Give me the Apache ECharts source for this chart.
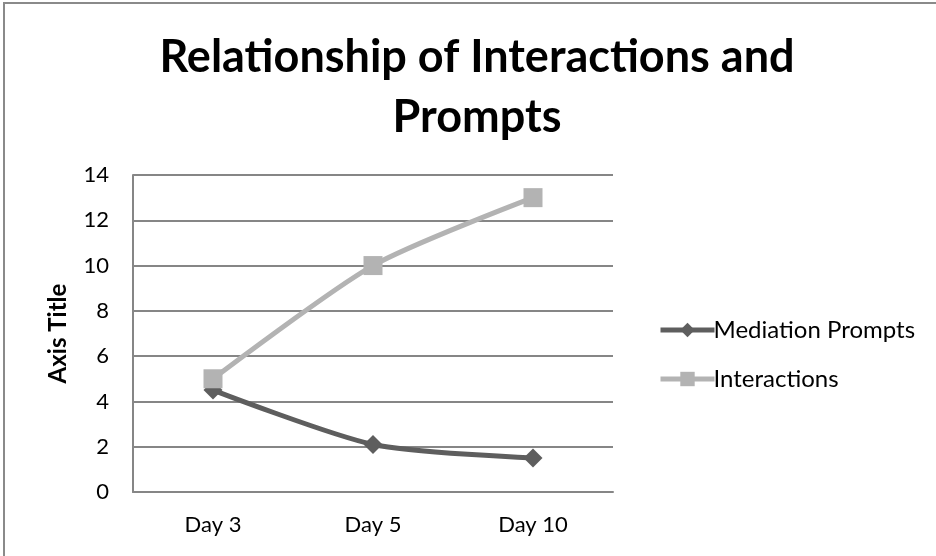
<!DOCTYPE html>
<html>
<head>
<meta charset="utf-8">
<style>
  html, body { margin: 0; padding: 0; background: #fff; }
  #chart { width: 936px; height: 556px; }
</style>
<script src="https://cdn.jsdelivr.net/npm/echarts@6/dist/echarts.min.js"></script>
</head>
<body>
<div id="chart"></div>
<script>
// 数据
var days = ['Day 3', 'Day 5', 'Day 10'];
var mediationPrompts = [4.5, 2.1, 1.5];
var interactions = [5, 10, 13];
var yTicks = { min: 0, max: 14, interval: 2 };

var font = 'Lato, "Open Sans", sans-serif';
var chart = echarts.init(document.getElementById('chart'), null, { renderer: 'canvas' });

var option = {
  animation: false,
  backgroundColor: '#fff',
  textStyle: { fontFamily: font },
  graphic: [{
    // 外边框
    type: 'rect',
    shape: { x: 4, y: 3, width: 960, height: 600 },
    style: { fill: 'none', stroke: '#8a8a8a', lineWidth: 2 },
    silent: true
  }],
  title: {
    text: 'Relationship of Interactions and\nPrompts',
    left: 472,
    top: 22,
    textAlign: 'center',
    textStyle: {
      fontFamily: font,
      fontWeight: 'bold',
      fontSize: 45,
      lineHeight: 60,
      color: '#000'
    }
  },
  legend: {
    orient: 'vertical',
    left: 653,
    top: 313,
    itemWidth: 54,
    itemHeight: 18,
    itemGap: 25,
    lineStyle: { width: 5 },
    textStyle: { fontFamily: font, fontSize: 24, lineHeight: 24, color: '#000', padding: [0, 0, 0, -6] },
    data: ['Mediation Prompts', 'Interactions']
  },
  grid: {
    left: 133,
    right: 323,
    top: 175,
    bottom: 64
  },
  xAxis: {
    type: 'category',
    data: days,
    axisLine: { lineStyle: { color: '#868686', width: 2 } },
    axisTick: { show: false },
    axisLabel: { fontFamily: font, fontSize: 22, color: '#000', margin: 22 }
  },
  yAxis: {
    type: 'value',
    min: yTicks.min,
    max: yTicks.max,
    interval: yTicks.interval,
    name: 'Axis Title',
    nameLocation: 'middle',
    nameGap: 63,
    nameTextStyle: { fontFamily: font, fontWeight: 'bold', fontSize: 24, color: '#000' },
    axisLine: { show: true, lineStyle: { color: '#868686', width: 2 } },
    axisTick: { show: false },
    splitLine: { lineStyle: { color: '#868686', width: 2 } },
    axisLabel: { fontFamily: font, fontSize: 22, color: '#000', margin: 24 }
  },
  series: [{
    name: 'Mediation Prompts',
    type: 'line',
    data: mediationPrompts,
    smooth: 0.25,
    symbol: 'diamond',
    symbolSize: 19,
    lineStyle: { width: 5, color: '#5e5e5e' },
    itemStyle: { color: '#5e5e5e' }
  }, {
    name: 'Interactions',
    type: 'line',
    data: interactions,
    smooth: 0.25,
    symbol: 'rect',
    symbolSize: 19,
    lineStyle: { width: 5, color: '#b3b3b3' },
    itemStyle: { color: '#b3b3b3' }
  }]
};

chart.setOption(option);
</script>
</body>
</html>
